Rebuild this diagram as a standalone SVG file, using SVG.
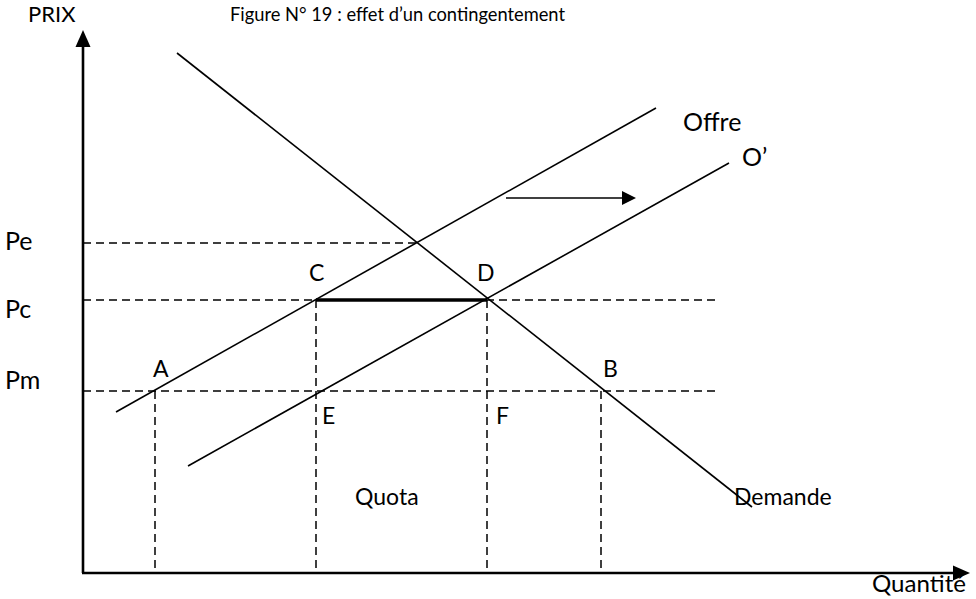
<svg xmlns="http://www.w3.org/2000/svg" width="976" height="599" viewBox="0 0 976 599">
<style>
text{font-family:Lato,"Noto Sans",sans-serif;fill:#000}
.lbl{font-size:23px}
.big{font-size:25px}
.ttl{font-size:19px}
.ln{stroke:#000;stroke-width:1.6;fill:none}
.ax{stroke:#000;stroke-width:2.6;fill:none}
.ds{stroke:#000;stroke-width:1.5;stroke-dasharray:8,5;fill:none}
</style>
<rect width="976" height="599" fill="#fff"/>
<g id="axes">
<line class="ax" x1="83" y1="573" x2="83" y2="44"/>
<path d="M75.5,47 L83,30 L90.5,47 z" fill="#000"/>
<line class="ax" x1="82" y1="573" x2="955" y2="573"/>
<path d="M953,565.5 L970,573 L953,580.5 z" fill="#000"/>
</g>
<g id="connectors">
<line class="ds" x1="83" y1="243" x2="416" y2="243"/>
<line class="ds" x1="83" y1="300" x2="718" y2="300"/>
<line class="ds" x1="83" y1="391" x2="718" y2="391"/>
<line class="ds" x1="155" y1="391" x2="155" y2="568"/>
<line class="ds" x1="316" y1="300" x2="316" y2="568"/>
<line class="ds" x1="487" y1="300" x2="487" y2="568"/>
<line class="ds" x1="601" y1="391" x2="601" y2="568"/>
<line class="ln" x1="116" y1="412" x2="656" y2="108"/>
<line class="ln" x1="188" y1="466" x2="729" y2="163"/>
<line class="ln" x1="177" y1="53" x2="752" y2="507"/>
<line stroke="#000" stroke-width="3.5" x1="316" y1="300" x2="487" y2="300"/>
<line class="ln" stroke-width="2" x1="506" y1="198" x2="624" y2="198"/>
<path d="M622,191 L636,198 L622,205 z" fill="#000"/>
</g>
<g id="labels">
<text class="lbl" x="28" y="22" style="font-size:22px">PRIX</text>
<text class="ttl" x="230" y="21" textLength="335" lengthAdjust="spacingAndGlyphs">Figure N° 19 : effet d’un contingentement</text>
<text class="big" x="5" y="250">Pe</text>
<text class="big" x="5" y="318">Pc</text>
<text class="big" x="5" y="389">Pm</text>
<text class="lbl" x="153" y="377">A</text>
<text class="lbl" x="309" y="281">C</text>
<text class="lbl" x="477" y="281">D</text>
<text class="lbl" x="322" y="424">E</text>
<text class="lbl" x="496" y="424">F</text>
<text class="lbl" x="603" y="377">B</text>
<text class="big" x="683" y="131">Offre</text>
<text class="big" x="742" y="166">O’</text>
<text class="lbl" x="355" y="505">Quota</text>
<text class="lbl" x="734" y="505">Demande</text>
<text class="lbl" x="872" y="592" textLength="94" lengthAdjust="spacingAndGlyphs">Quantité</text>
</g>
</svg>
